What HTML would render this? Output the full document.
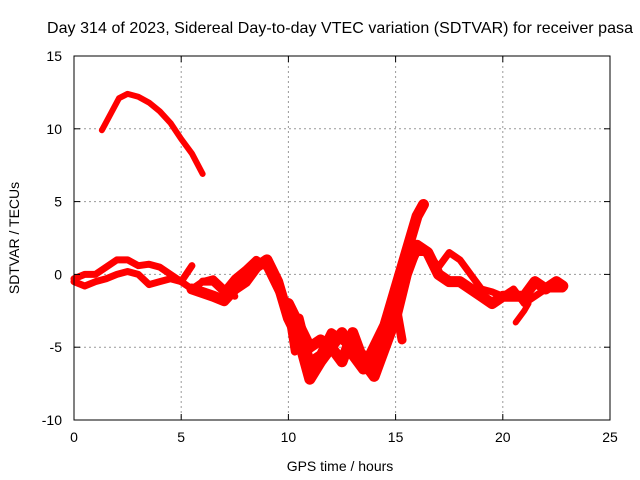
<!DOCTYPE html>
<html><head><meta charset="utf-8"><style>
body{margin:0;background:#fff}
svg{display:block;font-family:"Liberation Sans",sans-serif;font-size:14px}
</style></head><body>
<svg id="chart" width="640" height="480">
<g id="grid"></g>
<g id="series"></g>
<rect x="74" y="56" width="536" height="364" fill="none" stroke="#000"/>
<g id="ticks"></g>
<text x="340" y="33" text-anchor="middle" style="font-size:16px" textLength="586">Day 314 of 2023, Sidereal Day-to-day VTEC variation (SDTVAR) for receiver pasa</text>
<text x="340" y="471" text-anchor="middle">GPS time / hours</text>
<text transform="translate(19,238) rotate(-90)" text-anchor="middle">SDTVAR / TECUs</text>
</svg>
<script>
const xTicks=[0,5,10,15,20,25];
const yTicks=[-10,-5,0,5,10,15];
const arcH=[1.3,1.7,2.1,2.5,3.0,3.5,4.0,4.5,5.0,5.5,6.0];
const arcV=[9.9,11.0,12.1,12.4,12.2,11.8,11.2,10.4,9.3,8.3,6.9];
const s1H=[0,0.5,1,1.5,2,2.5,3,3.5,4,4.5,5,5.5];
const s1V=[-0.3,0,0,0.5,1,1,0.6,0.7,0.5,0,-0.5,0.6];
const s2H=[0,0.5,1,1.5,2,2.5,3,3.5,4,4.5,5,5.5,6,6.5,7,7.5];
const s2V=[-0.5,-0.8,-0.5,-0.3,0,0.2,0,-0.7,-0.5,-0.3,-0.5,-1,-0.5,-0.3,-1,-1.5];
const s3H=[6,6.5,7,7.5,8,8.5,9,9.5,10,10.3];
const s3V=[-0.5,-0.5,-1.2,-0.3,0.3,1,0.5,-1,-2.5,-5.3];
const s4H=[5.5,6.5,7,7.5,8,8.5,9,9.5,10,10.5,11,11.5,12,12.5,13,13.5,14,14.5,15,15.5,16,16.3];
const s4V=[-1,-1.5,-1.8,-1,-0.5,0.5,1,-0.5,-3,-4.5,-7.2,-6,-5,-4,-5.5,-6.5,-5,-3.5,-1,1.5,4,4.8];
const s5H=[10,10.5,11,11.5,12,12.5,13,13.5,14,14.5,15,15.5,16,16.5,17,17.5,18,18.5,19,19.5,20,20.5,21,21.5,22,22.5,22.8];
const s5V=[-2,-3.5,-5,-4.5,-5,-6,-4,-6,-7,-5,-3,0,2,1.5,0,-0.5,-0.5,-1,-1.5,-2,-1.5,-1.5,-1.5,-0.5,-1,-0.5,-0.8];
const s6H=[15.5,16,16.5,17,17.5,18,18.5,19,19.5,20,20.5,21,21.5,22,22.8];
const s6V=[0,1.5,1.5,0.5,1.5,1,0,-1,-1.2,-1.5,-1,-2,-1.5,-1,-1];
const s7H=[20.6,21,21.2];
const s7V=[-3.3,-2.5,-2];
const s8H=[10.5,11,11.5,12,12.5,13,13.5,14,14.5,15,15.3];
const s8V=[-3,-6,-5.5,-4,-4.5,-5,-5.5,-6,-4,-2,-4.5];
const NS="http://www.w3.org/2000/svg";
const X=h=>74+h*536/25, Y=v=>56+(15-v)*364/25;
const grid=document.getElementById('grid'),ticks=document.getElementById('ticks'),ser=document.getElementById('series');
function mk(t,a,p){const e=document.createElementNS(NS,t);for(const k in a)e.setAttribute(k,a[k]);p.appendChild(e);return e;}
xTicks.forEach(t=>{
 if(t>0&&t<25){const g=mk('line',{x1:X(t),x2:X(t),y1:56,y2:420,stroke:'#999','stroke-dasharray':'2,3'},grid);
 
 }
 const l=mk('text',{x:X(t),y:442,'text-anchor':'middle'},ticks);l.textContent=t;
 
 
 mk('line',{x1:X(t),x2:X(t),y1:420,y2:414,stroke:'#000'},ticks);
 mk('line',{x1:X(t),x2:X(t),y1:56,y2:62,stroke:'#000'},ticks);
});
yTicks.forEach(t=>{
 if(t>-10&&t<15){const g=mk('line',{x1:74,x2:610,y1:Y(t),y2:Y(t),stroke:'#999','stroke-dasharray':'2,3'},grid);
 
 }
 const l=mk('text',{x:62,y:Y(t)+5,'text-anchor':'end'},ticks);l.textContent=t;
 
 
 mk('line',{x1:74,x2:80,y1:Y(t),y2:Y(t),stroke:'#000'},ticks);
 mk('line',{x1:610,x2:604,y1:Y(t),y2:Y(t),stroke:'#000'},ticks);
});
[[arcH,arcV,6],[s1H,s1V,7],[s2H,s2V,7],[s3H,s3V,8],[s4H,s4V,11],[s5H,s5V,11],[s6H,s6V,7],[s7H,s7V,6],[s8H,s8V,9]].forEach((s,i)=>{
 const pts=s[0].map((h,j)=>X(h)+','+Y(s[1][j])).join(' ');
 const p=mk('polyline',{points:pts,fill:'none',stroke:'#f00','stroke-width':s[2],'stroke-linejoin':'round','stroke-linecap':'round'},ser);
 
 
});
</script>
</body></html>
